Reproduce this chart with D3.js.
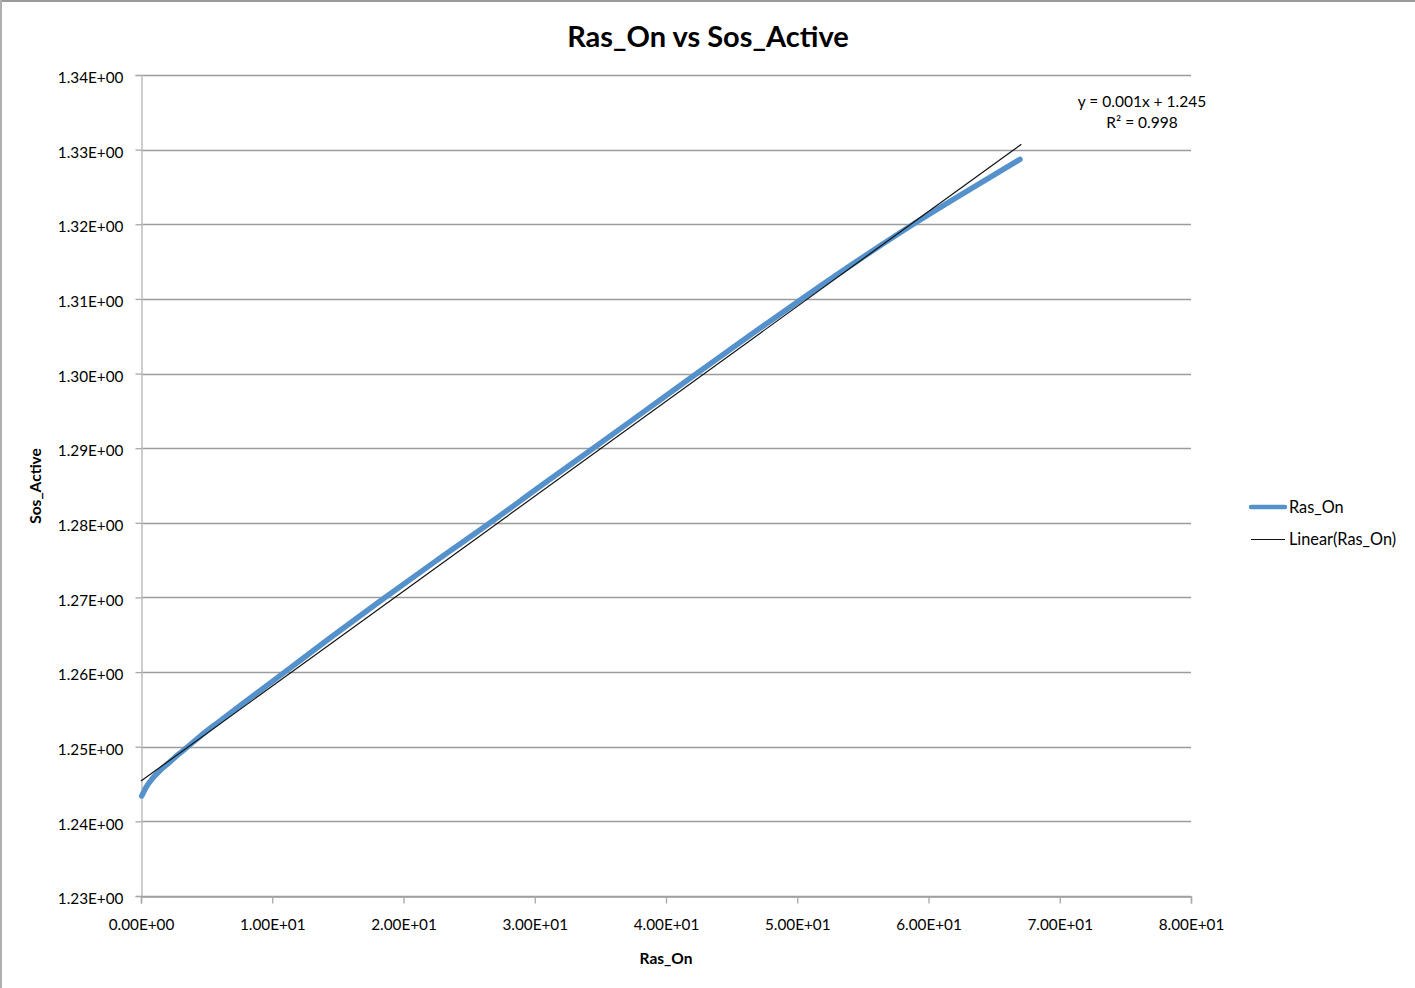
<!DOCTYPE html>
<html>
<head>
<meta charset="utf-8">
<script src="https://cdn.jsdelivr.net/npm/d3@7"></script>
<style>
  html, body { margin: 0; padding: 0; background: #fff; }
  svg { display: block; }
  text { font-family: Lato, "Open Sans", "Liberation Sans", sans-serif; fill: #000; }
</style>
</head>
<body>
<svg id="chart" width="1415" height="988"></svg>
<script>
// Simulation output: Ras_On (x) against Sos_Active (y)
const rasOn = [0.05, 0.4, 0.9, 1.5, 2.16, 2.8, 3.43, 4.5, 5.97, 8, 11.1, 14.5, 18.2, 22.4, 26.6,
               30.5, 34.46, 38.4, 42.34, 46.3, 50.34, 54.5, 58.84, 63, 66.97];
const sosActive = [1.2434, 1.2446, 1.2458, 1.2469, 1.2479, 1.2489, 1.2498, 1.2514, 1.2534, 1.2561,
                   1.2602, 1.2647, 1.2695, 1.2748, 1.2800, 1.2850, 1.2900, 1.2950, 1.3000, 1.3050,
                   1.3100, 1.3150, 1.3200, 1.3245, 1.3287];

// Linear trendline coefficients
const trendSlope = 0.001272;
const trendIntercept = 1.2454;
const trendR2 = 0.998;

// Axis ticks
const xTicks = [0, 10, 20, 30, 40, 50, 60, 70, 80];
const yTicks = [1.23, 1.24, 1.25, 1.26, 1.27, 1.28, 1.29, 1.30, 1.31, 1.32, 1.33, 1.34];

const title = "Ras_On vs Sos_Active";
const xTitle = "Ras_On";
const yTitle = "Sos_Active";
const seriesName = "Ras_On";
const trendName = "Linear(Ras_On)";

const svg = d3.select("#chart");
const W = 1415, H = 988;
const plot = { left: 141, right: 1191, top: 75, bottom: 896 };

const x = d3.scaleLinear().domain([0, 80]).range([plot.left, plot.right]);
const y = d3.scaleLinear().domain([1.23, 1.34]).range([plot.bottom, plot.top]);

// Scientific format like 1.34E+00
function sci(v) {
  const s = v.toExponential(2);
  const [m, e] = s.split("e");
  const sign = e[0] === "-" ? "-" : "+";
  const digits = e.replace(/[+-]/, "").padStart(2, "0");
  return m + "E" + sign + digits;
}

// Frame
svg.append("rect").attr("x", 0).attr("y", 0).attr("width", W).attr("height", 2).attr("fill", "#9a9a9a");
svg.append("rect").attr("x", 0).attr("y", 0).attr("width", 2).attr("height", H).attr("fill", "#b0b0b0");

// Horizontal gridlines
svg.append("g")
  .selectAll("line")
  .data(yTicks)
  .join("line")
  .attr("x1", plot.left).attr("x2", plot.right)
  .attr("y1", d => Math.round(y(d)) + 0.5).attr("y2", d => Math.round(y(d)) + 0.5)
  .attr("stroke", "#9c9c9c").attr("stroke-width", 1.4);

// Y axis
const yAxis = d3.axisLeft(y).tickValues(yTicks).tickFormat(sci).tickSize(6).tickPadding(12);
const gy = svg.append("g").attr("transform", `translate(${plot.left + 0.5},0)`).call(yAxis);
gy.select(".domain").attr("stroke", "#bdbdbd").attr("stroke-width", 1.5);
gy.selectAll(".tick line").attr("stroke", "#a8a8a8").attr("stroke-width", 1.3);
gy.selectAll(".tick text").attr("font-size", 15.3).attr("font-family", "Lato, sans-serif")
  .attr("fill", "#000").attr("dy", "0.5em");

// X axis
const xAxis = d3.axisBottom(x).tickValues(xTicks).tickFormat(sci).tickSize(7).tickPadding(16);
const gx = svg.append("g").attr("transform", `translate(0,${plot.bottom + 0.5})`).call(xAxis);
gx.select(".domain").attr("stroke", "#a0a0a0").attr("stroke-width", 1.4);
gx.selectAll(".tick line").attr("stroke", "#a8a8a8").attr("stroke-width", 1.3);
gx.selectAll(".tick text").attr("font-size", 15.3).attr("font-family", "Lato, sans-serif").attr("fill", "#000");

// Series line
const pts = rasOn.map((v, i) => [v, sosActive[i]]);
const line = d3.line().x(d => x(d[0])).y(d => y(d[1])).curve(d3.curveMonotoneX);
svg.append("path")
  .datum(pts)
  .attr("d", line)
  .attr("fill", "none")
  .attr("stroke", "#5592cc")
  .attr("stroke-width", 5.5)
  .attr("stroke-linecap", "round")
  .attr("stroke-linejoin", "round");

// Trendline across the data range
const xMax = d3.max(rasOn);
const trendPts = [[0, trendIntercept], [xMax + 0.1, trendIntercept + trendSlope * (xMax + 0.1)]];
svg.append("path")
  .datum(trendPts)
  .attr("d", d3.line().x(d => x(d[0])).y(d => y(d[1])))
  .attr("fill", "none")
  .attr("stroke", "#111")
  .attr("stroke-width", 1.2);

// Trendline equation
const fmt3 = d3.format(".3f");
svg.append("text")
  .attr("x", 1142).attr("y", 107)
  .attr("text-anchor", "middle").attr("font-size", 15.5)
  .text(`y = ${fmt3(trendSlope)}x + ${fmt3(trendIntercept)}`);
svg.append("text")
  .attr("x", 1142).attr("y", 128)
  .attr("text-anchor", "middle").attr("font-size", 15.5)
  .text(`R² = ${fmt3(trendR2)}`);

// Title
svg.append("text")
  .attr("x", 708).attr("y", 47)
  .attr("text-anchor", "middle").attr("font-size", 29).attr("font-weight", "bold")
  .text(title);

// Axis titles
svg.append("text")
  .attr("x", 666).attr("y", 964)
  .attr("text-anchor", "middle").attr("font-size", 15.5).attr("font-weight", "bold")
  .text(xTitle);
svg.append("text")
  .attr("transform", "translate(41,486) rotate(-90)")
  .attr("text-anchor", "middle").attr("font-size", 15.5).attr("font-weight", "bold")
  .text(yTitle);

// Legend
const legend = svg.append("g").attr("transform", "translate(1251,0)");
legend.append("line").attr("x1", 0).attr("x2", 34).attr("y1", 507).attr("y2", 507)
  .attr("stroke", "#5592cc").attr("stroke-width", 4.5).attr("stroke-linecap", "round");
legend.append("text").attr("x", 38).attr("y", 513).attr("font-size", 16.3).text(seriesName);
legend.append("line").attr("x1", 0).attr("x2", 34).attr("y1", 539.5).attr("y2", 539.5)
  .attr("stroke", "#111").attr("stroke-width", 1.2);
legend.append("text").attr("x", 38).attr("y", 545).attr("font-size", 16.3).text(trendName);
</script>
</body>
</html>
